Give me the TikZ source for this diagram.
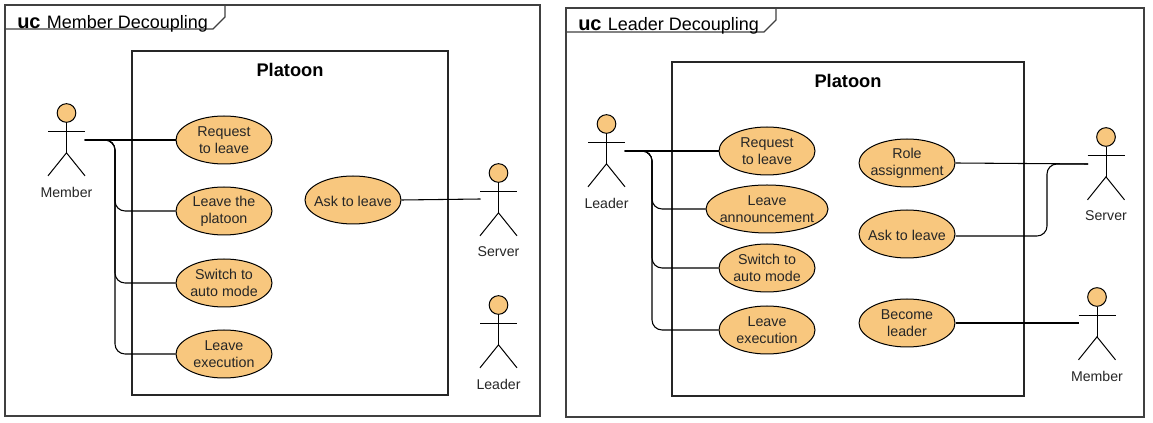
\documentclass[tikz,border=0pt]{standalone}
\usepackage{fontspec}
\setmainfont{Liberation Sans}
\usetikzlibrary{shapes.geometric,calc}
\definecolor{uo}{HTML}{F8C77E}
\tikzset{
  frame/.style={draw=black!75,line width=0.9pt},
  sysbox/.style={draw=black!85,line width=0.9pt},
  uc/.style={ellipse,draw=black,fill=uo,line width=0.75pt,minimum width=72pt,minimum height=36pt,inner xsep=-10pt,inner ysep=-6pt,align=center,font=\fontsize{10.7}{12.75}\selectfont,text=black!85,execute at begin node={\rule{0pt}{10pt}}},
  ucw/.style={uc,minimum width=91.5pt},
  head/.style={circle,draw=black,fill=uo,line width=0.75pt,minimum size=14pt,inner sep=0pt},
  stick/.style={draw=black,line width=0.75pt},
  alabel/.style={font=\fontsize{10.6}{12}\selectfont,text=black!85,inner sep=0pt},
  conn/.style={draw=black,line width=0.8pt,rounded corners=7.5pt},
  sysname/.style={font=\fontsize{13.7}{15}\bfseries\selectfont,inner sep=0pt},
  ftitle/.style={anchor=base west,inner sep=0pt,font=\fontsize{13.5}{15}\selectfont},
}
% name, head x, head y, label, connector y offset below the head centre
\newcommand{\actorfig}[5]{%
  \node[head] (#1) at (#2,#3) {};
  \draw[stick] (#1.south) -- ++(0,30) coordinate (#1b);
  \draw[stick] ($(#2,#3)+(-18.5,19)$) -- ($(#2,#3)+(18.5,19)$);
  \draw[stick] ($(#1b)+(-18.5,23)$) -- (#1b) -- ($(#1b)+(18.5,23)$);
  \node[alabel] (#1t) at ($(#2,#3)+(0,79)$) {#4};
  \coordinate (#1l) at ($(#2,#3)+(-18,#5)$);
  \coordinate (#1r) at ($(#2,#3)+(18,#5)$);
}
\newcommand{\ucmark}{{\fontsize{15}{15}\bfseries\selectfont uc}\hspace{1pt} }
\begin{document}
\begin{tikzpicture}[x=0.75pt,y=-0.75pt]
\useasboundingbox (0,0) rectangle (1153,423);
\fill[white] (0,0) rectangle (1153,423);
% --- left frame
\draw[frame] (5,5) rectangle (540,416);
\draw[frame] (5,29) -- (213,29) -- (225,17) -- (225,5);
\node[ftitle] (lt) at (17,28.8) {\ucmark Member Decoupling};
\draw[sysbox] (132,51) rectangle (448,395);
\node[sysname] (lp) at (290,70) {Platoon};
\node[uc] (a1) at (224,140) {Request\\to leave};
\node[uc] (a2) at (224,211) {Leave the\\platoon};
\node[uc] (a3) at (224,283) {Switch to\\auto mode};
\node[uc] (a4) at (224,354) {Leave\\execution};
\node[uc] (a5) at (353,200) {Ask to leave};
\actorfig{mem}{66.5}{113}{Member}{27}
\actorfig{srv}{498.5}{173}{Server}{26}
\actorfig{lea}{498.5}{305}{Leader}{19}
\draw[conn] (memr) -- (a1.west);
\draw[conn] (memr) -| (115,175) |- (a2.west);
\draw[conn] (memr) -| (115,240) |- (a3.west);
\draw[conn] (memr) -| (115,300) |- (a4.west);
\draw[conn] (a5.east) -- (srvl);
% --- right frame
\draw[frame] (566,8) rectangle (1144,417);
\draw[frame] (566,32) -- (764,32) -- (776,20) -- (776,8);
\node[ftitle] (rt) at (578,30.8) {\ucmark Leader Decoupling};
\draw[sysbox] (672,62) rectangle (1024,396);
\node[sysname] (rp) at (848,81) {Platoon};
\node[uc] (b1) at (767,151) {Request\\to leave};
\node[ucw] (b2) at (767,209) {Leave\\announcement};
\node[uc] (b3) at (767,268) {Switch to\\auto mode};
\node[uc] (b4) at (767,330) {Leave\\execution};
\node[uc] (b5) at (907,163) {Role\\assignment};
\node[uc] (b6) at (907,234) {Ask to leave};
\node[uc] (b7) at (907,323) {Become\\leader};
\actorfig{rlea}{606.5}{124}{Leader}{27}
\actorfig{rsrv}{1106}{137}{Server}{27}
\actorfig{rmem}{1097}{297}{Member}{26}
\draw[conn] (rlear) -- (b1.west);
\draw[conn] (rlear) -| (652,180) |- (b2.west);
\draw[conn] (rlear) -| (652,230) |- (b3.west);
\draw[conn] (rlear) -| (652,290) |- (b4.west);
\draw[conn] (b5.east) -- (rsrvl);
\draw[conn] ($(b6.east)+(0,2)$) -| (1047,200) |- (rsrvl);
\draw[conn] (b7.east) -- (rmeml);
\end{tikzpicture}
\end{document}
